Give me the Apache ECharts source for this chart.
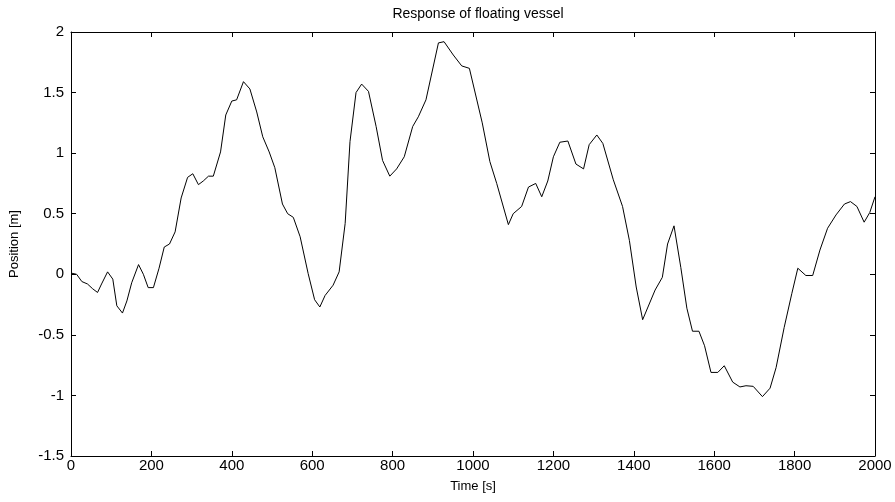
<!DOCTYPE html>
<html><head><meta charset="utf-8">
<script src="https://cdn.jsdelivr.net/npm/echarts@6/dist/echarts.min.js"></script>
<style>html,body{margin:0;padding:0;background:#fff}#c{width:895px;height:502px}</style>
</head><body><div id="c"></div>
<script>
const titleText = "Response of floating vessel";
const xLabel = "Time [s]";
const yLabel = "Position [m]";
const timeS = [0,14,27,41,54,66,76,91,104,114,128,139,151,168,180,192,205,219,232,245,259,274,290,303,317,329,342,354,372,385,400,412,429,445,462,477,493,507,526,539,553,570,590,606,619,632,652,667,682,694,709,723,740,759,775,793,810,829,850,864,883,914,928,951,972,991,1023,1042,1059,1088,1100,1121,1138,1156,1171,1186,1200,1216,1236,1256,1275,1289,1308,1323,1349,1372,1389,1406,1422,1453,1471,1484,1500,1517,1532,1546,1562,1576,1592,1609,1625,1646,1664,1679,1697,1720,1739,1754,1774,1793,1808,1828,1845,1863,1882,1903,1924,1939,1955,1973,1987,2000];
const positionM = [0.01,0.0,-0.06,-0.08,-0.12,-0.15,-0.08,0.02,-0.04,-0.26,-0.32,-0.22,-0.07,0.08,0.0,-0.11,-0.11,0.05,0.225,0.25,0.35,0.63,0.80,0.83,0.74,0.77,0.81,0.81,1.01,1.315,1.43,1.44,1.59,1.53,1.34,1.135,1.01,0.88,0.58,0.50,0.47,0.31,0.005,-0.21,-0.27,-0.175,-0.09,0.02,0.42,1.095,1.50,1.57,1.51,1.22,0.94,0.81,0.87,0.97,1.22,1.30,1.44,1.91,1.92,1.81,1.72,1.70,1.25,0.93,0.75,0.41,0.50,0.56,0.72,0.75,0.64,0.77,0.97,1.09,1.10,0.91,0.87,1.07,1.15,1.08,0.78,0.56,0.28,-0.105,-0.375,-0.13,-0.025,0.25,0.40,0.055,-0.28,-0.47,-0.47,-0.59,-0.81,-0.81,-0.755,-0.89,-0.93,-0.92,-0.925,-1.01,-0.94,-0.77,-0.44,-0.16,0.05,-0.01,-0.01,0.20,0.38,0.49,0.58,0.60,0.56,0.43,0.51,0.64];
const data = timeS.map((t,i)=>[t, positionM[i]]);
const font = "Liberation Sans, Arial, sans-serif";
const G = {left:71, right:20, top:32, bottom:46};
const chart = echarts.init(document.getElementById('c'), null, {renderer:'canvas'});
const axLine = {show:true, onZero:false, lineStyle:{color:'#000', width:1}};
const noLine = {show:false, onZero:false};
const tickOut = {show:true, inside:false, length:5, lineStyle:{color:'#000', width:1}};
const xBase = {type:'value', min:0, max:2000, interval:200, splitLine:{show:false}};
const yBase = {type:'value', min:-1.5, max:2, interval:0.5, splitLine:{show:false}};
const hidden = {type:'value', min:0, max:1, show:false};
chart.setOption({
  animation:false,
  backgroundColor:'#fff',
  title:{text:titleText, left:473, top:2, textAlign:'center',
    textStyle:{fontFamily:font, fontSize:14, fontWeight:'normal', color:'#000'}},
  grid:[
    Object.assign({show:false, containLabel:false}, G),
    {left:G.left, right:G.right, top:502 - G.bottom, height:10},
    {left:G.left, right:G.right, top:G.top - 10, height:10},
    {left:G.left - 10, width:10, top:G.top, bottom:G.bottom},
    {left:895 - G.right, width:10, top:G.top, bottom:G.bottom}
  ],
  xAxis:[
    Object.assign({gridIndex:0, position:'bottom', name:xLabel, nameLocation:'middle', nameGap:24,
     nameTextStyle:{fontFamily:font, fontSize:13, color:'#000'},
     axisLine:axLine, axisTick:{show:false},
     axisLabel:{fontFamily:font, fontSize:15, color:'#000', margin:2, formatter:v=>String(v)}}, xBase),
    Object.assign({gridIndex:0, position:'top', axisLine:axLine, axisTick:{show:false}, axisLabel:{show:false}}, xBase),
    Object.assign({gridIndex:1, position:'top', axisLine:noLine, axisTick:tickOut, axisLabel:{show:false}}, xBase),
    Object.assign({gridIndex:2, position:'bottom', axisLine:noLine, axisTick:tickOut, axisLabel:{show:false}}, xBase),
    Object.assign({gridIndex:3}, hidden),
    Object.assign({gridIndex:4}, hidden)
  ],
  yAxis:[
    Object.assign({gridIndex:0, position:'left', name:yLabel, nameLocation:'middle', nameGap:50, nameRotate:90,
     nameTextStyle:{fontFamily:font, fontSize:13, color:'#000'},
     axisLine:axLine, axisTick:{show:false},
     axisLabel:{fontFamily:font, fontSize:15, color:'#000', margin:7, formatter:v=>String(v)}}, yBase),
    Object.assign({gridIndex:0, position:'right', axisLine:axLine, axisTick:{show:false}, axisLabel:{show:false}}, yBase),
    Object.assign({gridIndex:1}, hidden),
    Object.assign({gridIndex:2}, hidden),
    Object.assign({gridIndex:3, position:'right', axisLine:noLine, axisTick:tickOut, axisLabel:{show:false}}, yBase),
    Object.assign({gridIndex:4, position:'left', axisLine:noLine, axisTick:tickOut, axisLabel:{show:false}}, yBase)
  ],
  series:[{type:'line', data:data, xAxisIndex:0, yAxisIndex:0, showSymbol:false,
    lineStyle:{color:'#000', width:1}, smooth:false}]
});
</script></body></html>
